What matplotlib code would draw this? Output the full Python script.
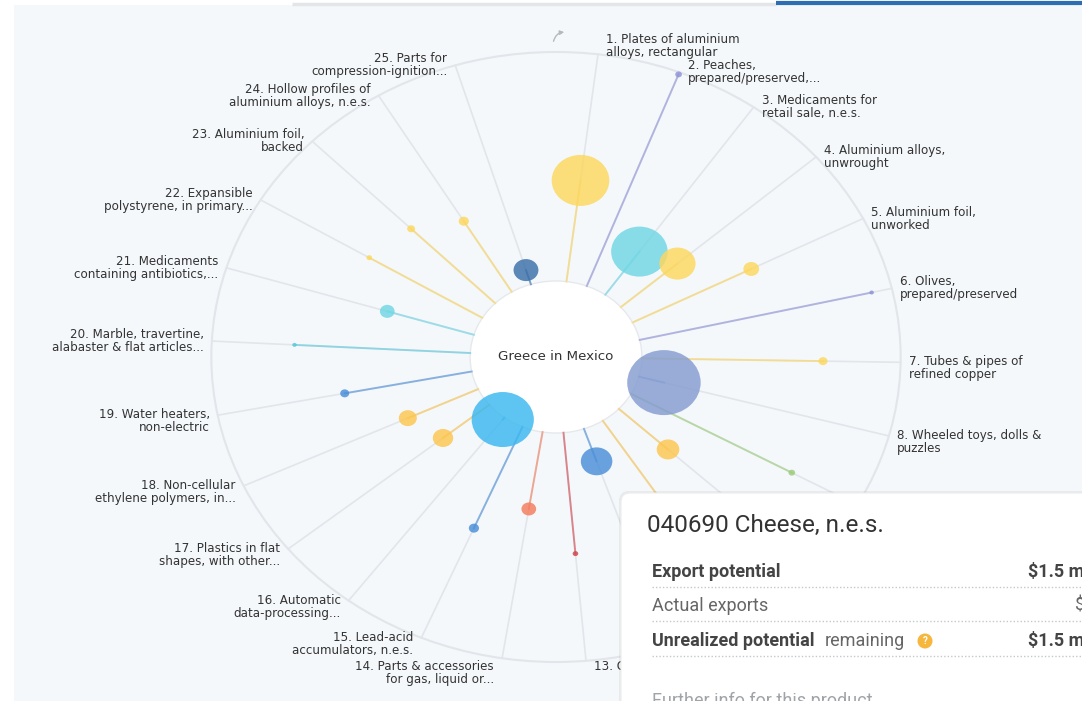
import numpy as np
import matplotlib
matplotlib.use("Agg")
import matplotlib.pyplot as plt
from matplotlib.patches import Ellipse, FancyBboxPatch, Rectangle

# ---- data (one entry per spoke, clockwise from the top) ----
labels = [
    "1. Plates of aluminium\nalloys, rectangular",
    "2. Peaches,\nprepared/preserved,...",
    "3. Medicaments for\nretail sale, n.e.s.",
    "4. Aluminium alloys,\nunwrought",
    "5. Aluminium foil,\nunworked",
    "6. Olives,\nprepared/preserved",
    "7. Tubes & pipes of\nrefined copper",
    "8. Wheeled toys, dolls &\npuzzles",
    "9. Fruit & nuts,\nprepared...",
    "10. Olive oil,\nvirgin",
    "11. Fish fillets,\nfrozen",
    "12. Cigarettes\ncontaining tobacco",
    "13. Cheese, n.e.s.",
    "14. Parts & accessories\nfor gas, liquid or...",
    "15. Lead-acid\naccumulators, n.e.s.",
    "16. Automatic\ndata-processing...",
    "17. Plastics in flat\nshapes, with other...",
    "18. Non-cellular\nethylene polymers, in...",
    "19. Water heaters,\nnon-electric",
    "20. Marble, travertine,\nalabaster & flat articles...",
    "21. Medicaments\ncontaining antibiotics,...",
    "22. Expansible\npolystyrene, in primary...",
    "23. Aluminium foil,\nbacked",
    "24. Hollow profiles of\naluminium alloys, n.e.s.",
    "25. Parts for\ncompression-ignition...",
]
# share of potential still unrealized (0 = centre ring, 1 = outer ring)
unrealized = [0.445, 0.99, 0.23, 0.29, 0.515, 0.92, 0.70, 0.10, 0.71, 0.26,
              0.45, 0.15, 0.53, 0.34, 0.48, 0.01, 0.23, 0.30, 0.50, 0.68,
              0.35, 0.51, 0.46, 0.36, 0.065]
# export potential, $ mn (bubble area)
potential = [7.36, 0.10, 7.07, 2.90, 0.55, 0.045, 0.18, 11.95, 0.10, 1.13,
             1.50, 2.20, 0.07, 0.48, 0.23, 8.56, 0.92, 0.72, 0.18, 0.045,
             0.48, 0.07, 0.14, 0.23, 1.37]
colors = ['#fdd75e', '#8f93d8', '#6fd6e4', '#fdd75e', '#fdd75e', '#8f93d8',
          '#fdd75e', '#849cd0', '#9ccc7a', '#fdc64e', '#fdc64e', '#4a8ed8',
          '#d0454c', '#f47c5c', '#4a8ed8', '#3bb7f0', '#fdc64e', '#fdc64e',
          '#4a8ed8', '#5bc8dc', '#6fd6e4', '#fdd75e', '#fdd75e', '#fdd75e',
          '#3a6fa8']

# ---- layout ----
W, H = 1082, 701
cx, cy = 556, 357
S = 1.13            # horizontal stretch of the screenshot
r_in, r_out = 76, 305
start_deg, step_deg = 7, 14
label_nudge = {1: -8, 14: 9}
tip_x, tip_y = 621, 493

fig = plt.figure(figsize=(W / 100, H / 100), dpi=100)
ax = fig.add_axes([0, 0, 1, 1])
ax.set_xlim(0, W)
ax.set_ylim(H, 0)
ax.axis('off')

lab_font = 'DejaVu Sans'
tip_font = 'Roboto'


def pt(r, th):
    return cx + S * r * np.sin(th), cy - r * np.cos(th)


# page background and top tabs
ax.add_patch(Rectangle((14, 5), W - 14, H - 5, fc='#f4f8fb', ec='none', zorder=0))
ax.plot([292, 776], [4, 4], color='#e3e6e9', lw=2.5, solid_capstyle='butt', zorder=1)
ax.plot([776, W], [2.5, 2.5], color='#2f6db3', lw=3, solid_capstyle='butt', zorder=1)

# outer ring
ax.add_patch(Ellipse((cx, cy), 2 * S * r_out, 2 * r_out, fc='none', ec='#e2e5e9', lw=1.5, zorder=1))

thetas = np.radians(start_deg + step_deg * np.arange(len(labels)))

for i, th in enumerate(thetas):
    x0, y0 = pt(r_in, th)
    x1, y1 = pt(r_out, th)
    ax.plot([x0, x1], [y0, y1], color='#e2e5e9', lw=1.2, zorder=2)

    # label (those lying under the tooltip are not visible)
    side = 1 if np.sin(th) > 0.01 else -1
    lx = x1 + 8 * side
    ly = y1 + (0 if np.cos(th) >= 0 else 6) + label_nudge.get(i + 1, 0)
    if lx > tip_x and ly > tip_y:
        continue
    ax.text(lx, ly, labels[i], ha='left' if side > 0 else 'right',
            va='center', fontsize=8.6, family=lab_font, color='#333333',
            linespacing=1.0, zorder=3)

# centre circle
ax.add_patch(Ellipse((cx, cy), 2 * S * r_in, 2 * r_in, fc='white', ec='#e6e9ec', lw=1, zorder=4))
ax.text(cx, cy, "Greece in Mexico", ha='center', va='center', fontsize=9.6,
        family=lab_font, color='#333333', zorder=8)

# lollipops
for i, th in enumerate(thetas):
    r = r_in + unrealized[i] * (r_out - r_in)
    x0, y0 = pt(r_in, th)
    x1, y1 = pt(r, th)
    ax.plot([x0, x1], [y0, y1], color=colors[i], lw=1.4, alpha=0.6, zorder=5)
    rb = max(2.0, 9.4 * np.sqrt(potential[i]))
    ax.add_patch(Ellipse((x1, y1), 2 * S * rb, 2 * rb, fc=colors[i], ec='none',
                         alpha=0.82, zorder=6))

# rotate icon
ax.annotate('', xy=(567, 32), xytext=(553, 44),
            arrowprops=dict(arrowstyle='-|>', connectionstyle='arc3,rad=-0.45',
                            color='#b5b9bd', lw=1, mutation_scale=6), zorder=3)

# tooltip
ax.add_patch(FancyBboxPatch((tip_x - 2, tip_y - 2), 600, 300,
                            boxstyle='round,pad=0,rounding_size=10',
                            fc='#000000', ec='none', alpha=0.05, zorder=9))
ax.add_patch(FancyBboxPatch((tip_x, tip_y), 600, 300,
                            boxstyle='round,pad=0,rounding_size=9',
                            fc='white', ec='#ececec', lw=0.8, zorder=10))
ax.text(647, 525, "040690 Cheese, n.e.s.", ha='left', va='center', fontsize=17.5,
        family=tip_font, color='#333333', zorder=11)

rows = [("Export potential", "", "$1.5 mn", 572),
        ("Actual exports", None, "$0", 606),
        ("Unrealized potential", " remaining", "$1.5 mn", 641)]
for name, extra, val, y in rows:
    bold = extra is not None
    ax.text(652, y, name, ha='left', va='center', fontsize=13,
            family=tip_font, fontweight='bold' if bold else 'normal',
            color='#444444' if bold else '#666666', zorder=11)
    if extra:
        ax.text(825, y, extra.strip(), ha='left', va='center', fontsize=13,
                family=tip_font, color='#666666', zorder=11)
    ax.text(1028 if bold else 1075, y, val, ha='left', va='center', fontsize=13,
            family=tip_font, fontweight='bold' if bold else 'normal',
            color='#444444' if bold else '#666666', zorder=11)
    ax.plot([652, W], [y + 15, y + 15], color='#c4c8cc', lw=1,
            ls=(0, (1, 1.5)), zorder=11)

ax.add_patch(Ellipse((925, 641), 15, 15, fc='#f6b73c', ec='none', zorder=11))
ax.text(925, 641.5, "?", ha='center', va='center', fontsize=7, family=tip_font,
        fontweight='bold', color='white', zorder=12)
ax.text(652, 701, "Further info for this product", ha='left', va='center',
        fontsize=13, family=tip_font, color='#a0a4a8', zorder=11)

fig.savefig("out.png", dpi=100)
